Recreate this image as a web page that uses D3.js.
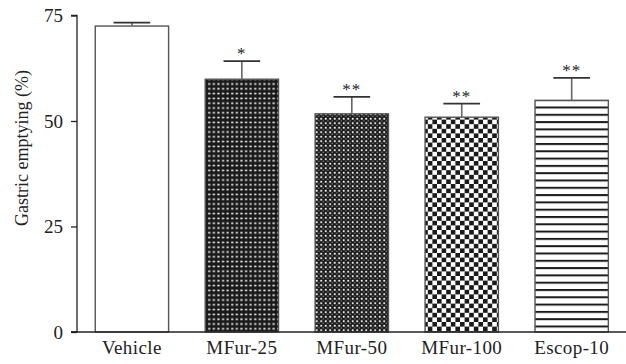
<!DOCTYPE html>
<html>
<head>
<meta charset="utf-8">
<script src="https://cdn.jsdelivr.net/npm/d3@7/dist/d3.min.js"></script>
<style>
  html, body { margin: 0; padding: 0; background: #fff; }
  svg { display: block; }
  text { font-family: "Liberation Serif", "Times New Roman", serif; fill: #222; }
</style>
</head>
<body>
<svg id="chart" width="626" height="364"></svg>
<script>
const categories = ["Vehicle", "MFur-25", "MFur-50", "MFur-100", "Escop-10"];
const values = [72.5, 59.9, 51.7, 50.9, 54.9];
const errors = [0.8, 4.3, 4.0, 3.2, 5.3];
const signif = ["", "*", "**", "**", "**"];
const yTicks = [0, 25, 50, 75];
const yLabel = "Gastric emptying (%)";

const svg = d3.select("#chart");
const defs = svg.append("defs");

// patterns
const p1 = defs.append("pattern").attr("id", "pat1").attr("patternUnits", "userSpaceOnUse")
  .attr("width", 4.6).attr("height", 4.8);
p1.append("rect").attr("width", 4.6).attr("height", 4.8).attr("fill", "#1a1a1a");
p1.append("rect").attr("x", 1.2).attr("y", 1.6).attr("width", 2.1).attr("height", 1.6).attr("fill", "#fff");

const p2 = defs.append("pattern").attr("id", "pat2").attr("patternUnits", "userSpaceOnUse")
  .attr("width", 4.5).attr("height", 4.5);
p2.append("rect").attr("width", 4.5).attr("height", 4.5).attr("fill", "#1a1a1a");
p2.append("rect").attr("x", 0.8).attr("y", 0.8).attr("width", 1.8).attr("height", 1.8).attr("fill", "#fff");
p2.append("rect").attr("x", 3.3).attr("y", 3.3).attr("width", 0.9).attr("height", 0.9).attr("fill", "#fff");

const p3 = defs.append("pattern").attr("id", "pat3").attr("patternUnits", "userSpaceOnUse")
  .attr("width", 9.2).attr("height", 9.2);
p3.append("rect").attr("width", 9.2).attr("height", 9.2).attr("fill", "#fff");
p3.append("rect").attr("width", 4.6).attr("height", 4.6).attr("fill", "#1a1a1a");
p3.append("rect").attr("x", 4.6).attr("y", 4.6).attr("width", 4.6).attr("height", 4.6).attr("fill", "#1a1a1a");

const p4 = defs.append("pattern").attr("id", "pat4").attr("patternUnits", "userSpaceOnUse")
  .attr("width", 10).attr("height", 7.3).attr("y", 101 + 5.5);
p4.append("rect").attr("width", 10).attr("height", 7.3).attr("fill", "#fff");
p4.append("rect").attr("y", 0).attr("width", 10).attr("height", 2).attr("fill", "#1a1a1a");

const fills = ["#fff", "url(#pat1)", "url(#pat2)", "url(#pat3)", "url(#pat4)"];

const x = d3.scaleBand().domain(categories).range([77, 626.6]).paddingInner(0.333).paddingOuter(0.166);
const y = d3.scaleLinear().domain([0, 75]).range([332, 15.5]);

// bars
const g = svg.append("g");
categories.forEach((c, i) => {
  g.append("rect")
    .attr("x", x(c)).attr("y", y(values[i]))
    .attr("width", x.bandwidth()).attr("height", y(0) - y(values[i]))
    .attr("fill", fills[i]).attr("stroke", "#555").attr("stroke-width", 1.4);
  const cx = x(c) + x.bandwidth() / 2;
  const half = x.bandwidth() / 4;
  g.append("line").attr("x1", cx).attr("x2", cx)
    .attr("y1", y(values[i])).attr("y2", y(values[i] + errors[i]))
    .attr("stroke", "#666").attr("stroke-width", 1.6);
  g.append("line").attr("x1", cx - half).attr("x2", cx + half)
    .attr("y1", y(values[i] + errors[i])).attr("y2", y(values[i] + errors[i]))
    .attr("stroke", "#333").attr("stroke-width", 1.8);
  if (signif[i]) {
    g.append("text").attr("x", cx).attr("y", y(values[i] + errors[i]) - 2)
      .attr("text-anchor", "middle").attr("font-size", 17).attr("fill", "#444")
      .attr("letter-spacing", 1)
      .text(signif[i]);
  }
});

// axes
const yAxis = d3.axisLeft(y).tickValues(yTicks).tickSize(6).tickPadding(8);
const ya = svg.append("g").attr("transform", "translate(77,0)").call(yAxis);
ya.attr("font-size", 19);
ya.select(".domain").attr("stroke", "#222").attr("stroke-width", 1.3).attr("d", "M-6,15.5H0V332H-6");
ya.selectAll(".tick line").attr("stroke", "#222").attr("stroke-width", 1.3);
ya.selectAll(".tick text").attr("font-size", 19).attr("fill", "#222")
  .style("font-family", "'Liberation Serif', serif");

const xAxis = d3.axisBottom(x).tickSize(0).tickPadding(9);
const xa = svg.append("g").attr("transform", "translate(0,332)").call(xAxis);
xa.attr("font-size", 19);
xa.select(".domain").attr("stroke", "#222").attr("stroke-width", 1.3).attr("d", "M71,0H626");
xa.selectAll(".tick text").attr("font-size", 19).attr("fill", "#222")
  .attr("letter-spacing", 0.4)
  .style("font-family", "'Liberation Serif', serif");

svg.append("text")
  .attr("transform", "translate(28,148) rotate(-90)")
  .attr("text-anchor", "middle").attr("font-size", 18)
  .text(yLabel);
</script>
</body>
</html>
